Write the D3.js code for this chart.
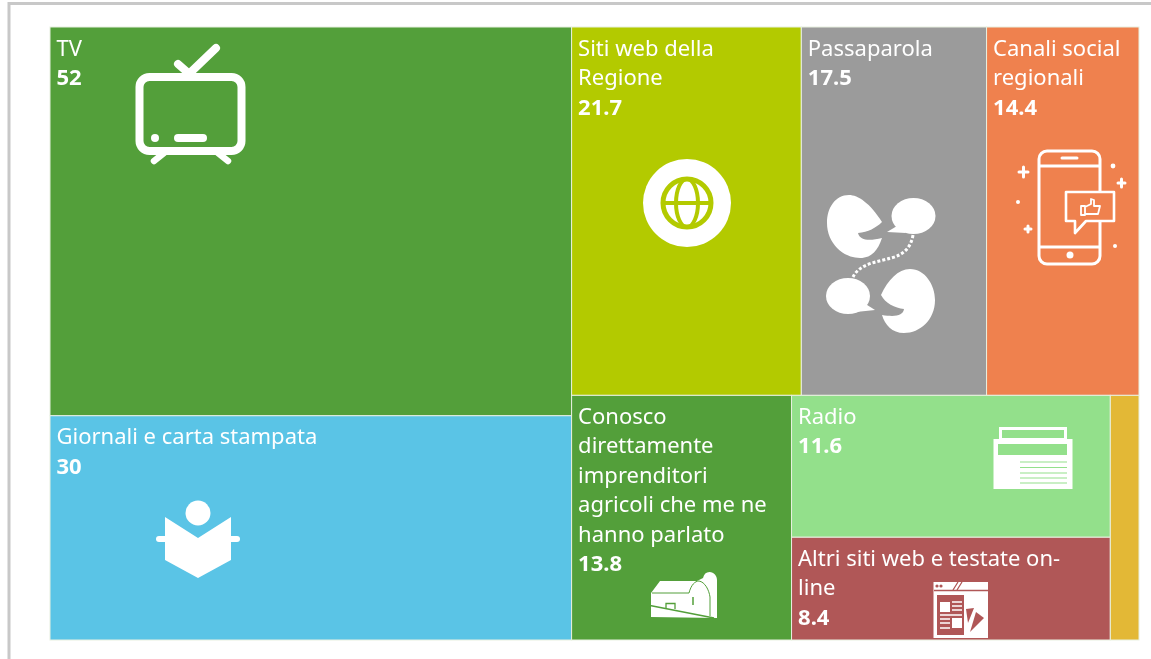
<!DOCTYPE html>
<html><head><meta charset="utf-8">
<script src="https://cdn.jsdelivr.net/npm/d3@7/dist/d3.min.js"></script>
<style>
html,body{margin:0;padding:0;background:#fff;overflow:hidden}
svg{display:block;filter:blur(0.45px)}
text{font-family:"Noto Sans",sans-serif;fill:#fff;font-size:22px}
</style></head><body>
<svg id="c" width="1151" height="659"></svg>
<script>
// Values
const names = ["TV","Giornali e carta stampata","Siti web della Regione","Passaparola","Canali social regionali",
  "Conosco direttamente imprenditori agricoli che me ne hanno parlato","Radio","Altri siti web e testate on-line","Altro"];
const values = [52,30,21.7,17.5,14.4,13.8,11.6,8.4,1.8];
const valueLabels = ["52","30","21.7","17.5","14.4","13.8","11.6","8.4",""];
const colors = ["#539F3A","#5AC4E6","#B3CA00","#9B9B9B","#EF814E","#539F3A","#93E08B","#B05757","#E3B836"];
const wrapped = [["TV"],["Giornali e carta stampata"],["Siti web della","Regione"],["Passaparola"],["Canali social","regionali"],
  ["Conosco","direttamente","imprenditori","agricoli che me ne","hanno parlato"],["Radio"],["Altri siti web e testate on-","line"],[]];
const leaf = i => ({i, value: values[i]});
const tree = {children:[
  {children:[leaf(0),leaf(1)]},
  {children:[
    {children:[leaf(2),leaf(3),leaf(4)]},
    {children:[leaf(5),{children:[leaf(6),leaf(7)]},leaf(8)]}
  ]}
]};
const root = d3.hierarchy(tree).sum(d=>d.value||0);
d3.treemap().tile(d3.treemapSliceDice).size([1089,613])(root);

const svg = d3.select("#c");
svg.append("path").attr("d","M9 659V3.500H1151").attr("fill","none").attr("stroke","#c8c8c8").attr("stroke-width",3);
const g = svg.append("g").attr("transform","translate(50,27)");
const cells = g.selectAll("g.cell").data(root.leaves()).join("g").attr("class","cell")
  .attr("transform",d=>`translate(${d.x0},${d.y0})`);
cells.append("rect").attr("width",d=>d.x1-d.x0).attr("height",d=>d.y1-d.y0)
  .attr("fill",d=>colors[d.data.i]).attr("stroke","#e8f0e0").attr("stroke-width",1);
const LH = 29.5;
cells.each(function(d){
  const s = d3.select(this), lines = wrapped[d.data.i];
  lines.forEach((t,k)=>s.append("text").attr("x",6.5).attr("y",28.5+k*LH).text(t));
  s.append("text").attr("x",6.5).attr("y",28.5+lines.length*LH).style("font-weight",700).text(valueLabels[d.data.i]);
});

// Pictograms, in page coordinates
const ic = svg.append("g");
const W="#fff";
function line(p,w){return ic.append("path").attr("d",p).attr("fill","none").attr("stroke",W).attr("stroke-width",w).attr("stroke-linecap","round").attr("stroke-linejoin","round");}
function fill(p,c){return ic.append("path").attr("d",p).attr("fill",c||W);}
function stroke(p,c,w){return ic.append("path").attr("d",p).attr("fill","none").attr("stroke",c).attr("stroke-width",w);}
// TV
ic.append("rect").attr("x",139.5).attr("y",77).attr("width",102).attr("height",74).attr("rx",10).attr("fill","none").attr("stroke",W).attr("stroke-width",8);
line("M192 71L216 48",8); line("M178 64L186 71",8);
ic.append("circle").attr("cx",155).attr("cy",138).attr("r",4).attr("fill",W);
line("M178 138H203",8);
line("M154 161L164 153",6.5); line("M228 161L218 153",6.5);
// Globe
ic.append("circle").attr("cx",687).attr("cy",203).attr("r",44).attr("fill",W);
const lime="#B3CA00";
ic.append("circle").attr("cx",687).attr("cy",203).attr("r",24).attr("fill","none").attr("stroke",lime).attr("stroke-width",5);
ic.append("ellipse").attr("cx",687).attr("cy",203).attr("rx",11).attr("ry",24).attr("fill","none").attr("stroke",lime).attr("stroke-width",4);
stroke("M664 203H710",lime,4);
// Passaparola
fill("M882 222C870 203 858 195 849 195C835 195 827 208 827 223C827 243 843 258 860 258C872 258 878 250 882 238C870 241 860 241 858 233C868 232 876 228 882 222Z");
ic.append("ellipse").attr("cx",913.500).attr("cy",216).attr("rx",22).attr("ry",18).attr("fill",W);
fill("M897 226L887 232L906 233Z");
ic.append("ellipse").attr("cx",848).attr("cy",296).attr("rx",22).attr("ry",18).attr("fill",W);
fill("M864 303L875 310L856 312Z");
fill("M881 295C888 280 898 269 910 269C925 269 935 285 935 300C935 320 920 333 904 333C892 333 885 325 882 315C895 317 903 316 904 309C895 308 885 303 881 295Z");
stroke("M913 235C911 248 903 255 891 258C878 262 860 263 853 277",W,3).attr("stroke-dasharray","3 2");
// Phone
const thin=(p)=>line(p,3);
ic.append("rect").attr("x",1039).attr("y",151).attr("width",61).attr("height",113).attr("rx",8).attr("fill","none").attr("stroke",W).attr("stroke-width",3);
thin("M1040 166H1099"); thin("M1040 247H1099"); thin("M1062 158H1077");
ic.append("circle").attr("cx",1070).attr("cy",255).attr("r",3.5).attr("fill",W);
ic.append("path").attr("d","M1066 192H1114V221H1086L1075 233V221H1066Z").attr("fill","#EF814E").attr("stroke",W).attr("stroke-width",2.6).attr("stroke-linejoin","round");
line("M1081 206V215H1085V206ZM1085 207L1091 204L1091 199L1094 200V206H1100L1098 214L1085 214",1.8);
thin("M1019 172H1028M1023.500 167V177"); thin("M1118 183H1125M1121.500 179V187"); thin("M1025 229H1031M1028 226V232");
[[1113,166,2.4],[1018,202,2],[1115,246,2]].forEach(p=>ic.append("circle").attr("cx",p[0]).attr("cy",p[1]).attr("r",p[2]).attr("fill",W));
// Reader
ic.append("circle").attr("cx",198).attr("cy",513).attr("r",12.5).attr("fill",W);
fill("M165 517L198 538L231 517V560L198 578L165 560Z");
line("M159 539H165",6); line("M231 539H237",6);
// Barn
const barnBg="#539F3A";
fill("M651 617V593L660 581H697C699 580 701 579 703 578C704 574 706 572 709.500 572C714 572 717 576 717 580V618Z");
stroke("M650 605.500L714 618",barnBg,1.5);
stroke("M652 593H689C691 585 695 581 699 581C705 582 709 590 710 597V616",barnBg,1);
stroke("M693 597V605",barnBg,1.5);
stroke("M666 608V603.500H675V609",barnBg,1.3);
fill("M649 606.500L713 619H649Z",barnBg).attr("fill-opacity",0);
// Newspaper
const radioBg="#93E08B";
ic.append("rect").attr("x",993.500).attr("y",439).attr("width",79).attr("height",50).attr("fill",W);
ic.append("rect").attr("x",1000.500).attr("y",428.500).attr("width",65).attr("height",11).attr("fill",radioBg).attr("stroke",W).attr("stroke-width",3);
ic.append("rect").attr("x",998).attr("y",444).attr("width",69).attr("height",11).attr("fill",radioBg);
stroke("M1020 462H1067M1020 467.500H1067M1020 473H1067M1020 478H1067M1020 483H1067",radioBg,1.2);
// Web page
const red="#B05757";
ic.append("rect").attr("x",933.500).attr("y",582).attr("width",54.5).attr("height",56).attr("fill",W);
stroke("M934 590.500H988",red,1.5);
stroke("M953 590L958 582M957 590L962 582",red,1.3);
ic.append("circle").attr("cx",937).attr("cy",586).attr("r",1.6).attr("fill",red);
ic.append("circle").attr("cx",941).attr("cy",586).attr("r",1.6).attr("fill",red);
ic.append("rect").attr("x",937).attr("y",595).attr("width",27).attr("height",40).attr("fill",red);
fill("M966 609L974 608L968 623Z",red);
fill("M976 612L984 618L970 632Z",red);
ic.append("rect").attr("x",940).attr("y",602).attr("width",10).attr("height",10).attr("fill",W);
ic.append("rect").attr("x",952).attr("y",618).attr("width",10).attr("height",10).attr("fill",W);
stroke("M952 602H962M952 606H962M952 610H962M940 615H962M940 619H950M940 623H950M940 628H950",W,1.4);
</script>
</body></html>
